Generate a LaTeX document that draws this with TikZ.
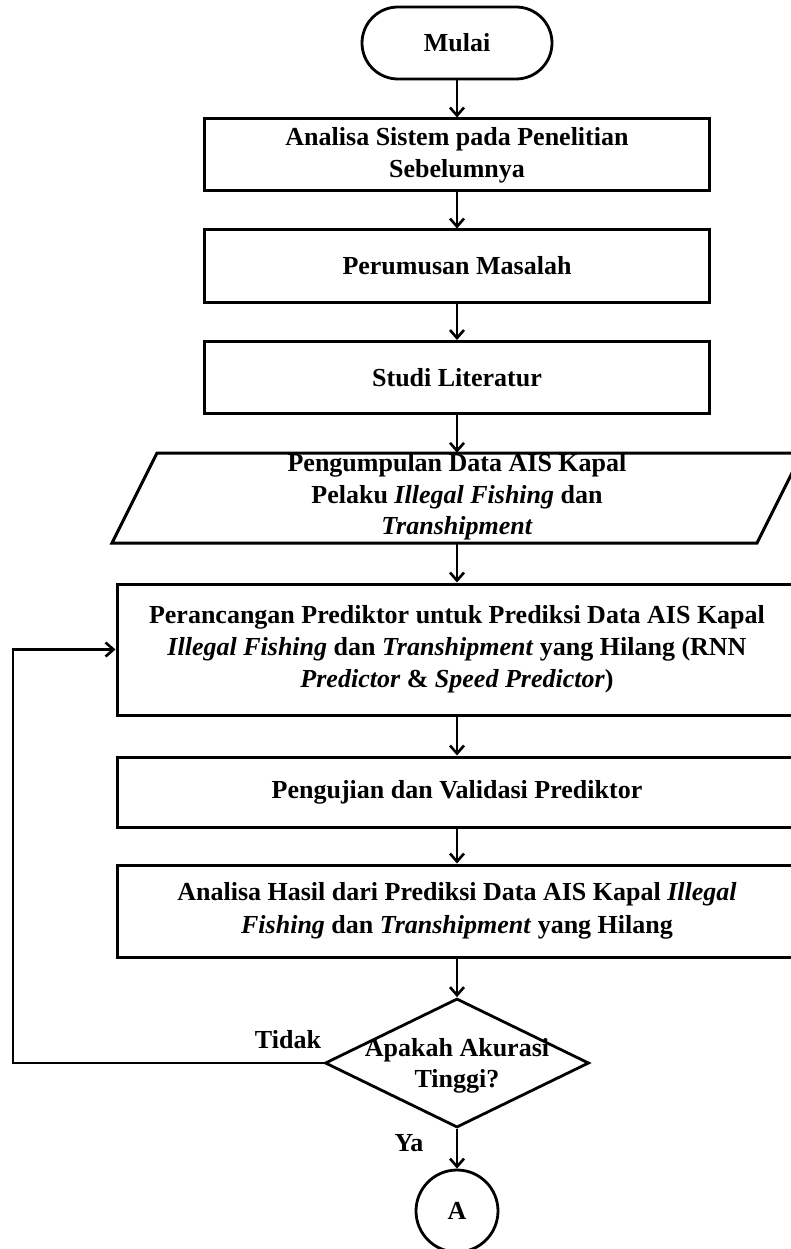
\documentclass[tikz,border=0pt]{standalone}
\usepackage{fontspec}
\setmainfont{Liberation Serif}
\usetikzlibrary{arrows.meta,shapes.geometric}

\begin{document}
\begin{tikzpicture}[x=1pt,y=-1pt,
  every node/.style={font=\fontsize{26}{32}\selectfont\bfseries, inner sep=0pt},
  box/.style={draw, line width=3pt, rectangle, align=center},
  smallbox/.style={box, minimum width=505pt, minimum height=72pt},
  widebox/.style={box, minimum width=680pt},
  terminal/.style={draw, line width=2.8pt, rectangle, rounded corners=36pt,
    minimum width=190pt, minimum height=72pt},
  decision/.style={draw, line width=2.8pt, diamond, aspect=2.05,
    minimum width=264pt, minimum height=129pt},
  connector/.style={draw, line width=2.8pt, circle, minimum size=82pt},
  flow/.style={line width=2.8pt, -{Straight Barb[length=8pt,width=14pt,line width=2.6pt]}},
  lbl/.style={font=\fontsize{26}{32}\selectfont\bfseries}
]
\fill[white] (0,0) rectangle (790,1249);
\useasboundingbox (0,0) rectangle (790,1249);

% main column
\node[terminal] (start) at (457,43) {Mulai};
\node[smallbox] (b1) at (457,155) {Analisa Sistem pada Penelitian\\Sebelumnya};
\node[smallbox] (b2) at (457,266) {Perumusan Masalah};
\node[smallbox] (b3) at (457,377.5) {Studi Literatur};

% data input (parallelogram)
\draw[line width=3pt, line join=miter] (112,543) -- (157,453) -- (802,453) -- (757,543) -- cycle;
\node[minimum width=600pt, minimum height=90pt] (data) at (457,498) {};
\node[align=center, font=\fontsize{26}{31.5}\selectfont\bfseries] at (457,497)
  {Pengumpulan Data AIS Kapal\\Pelaku \textit{Illegal Fishing} dan\\\textit{Transhipment}};

\node[widebox, minimum height=131pt] (design) at (457,649.5)
  {Perancangan Prediktor untuk Prediksi Data AIS Kapal\\
   \textit{Illegal Fishing} dan \textit{Transhipment} yang Hilang (RNN\\
   \textit{Predictor} \& \textit{Speed Predictor})};
\node[widebox, minimum height=70pt] (test) at (457,792) {Pengujian dan Validasi Prediktor};
\node[widebox, minimum height=92pt, font=\fontsize{26}{33}\selectfont\bfseries] (result) at (457,911)
  {Analisa Hasil dari Prediksi Data AIS Kapal \textit{Illegal}\\
   \textit{Fishing} dan \textit{Transhipment} yang Hilang};

\node[decision] (dec) at (457,1063) {};
\node[align=center, font=\fontsize{26}{31}\selectfont\bfseries] (dectext) at (457,1066)
  {Apakah Akurasi\\Tinggi?};
\node[connector] (conA) at (457,1211) {A};

% connectors
\draw[flow] (start) -- (b1);
\draw[flow] (b1) -- (b2);
\draw[flow] (b2) -- (b3);
\draw[flow] (b3) -- (data);
\draw[flow] (data) -- (design);
\draw[flow] (design) -- (test);
\draw[flow] (test) -- (result);
\draw[flow] (result) -- (dec);
\draw[flow] (dec) -- (conA);
\coordinate (loop) at (13,1063);
\draw[flow] (dec.west) -- (loop) |- (design.west);

% branch labels
\node[lbl] (no) at (288,1040) {Tidak};
\node[lbl] (yes) at (409,1143) {Ya};
\end{tikzpicture}
\end{document}
